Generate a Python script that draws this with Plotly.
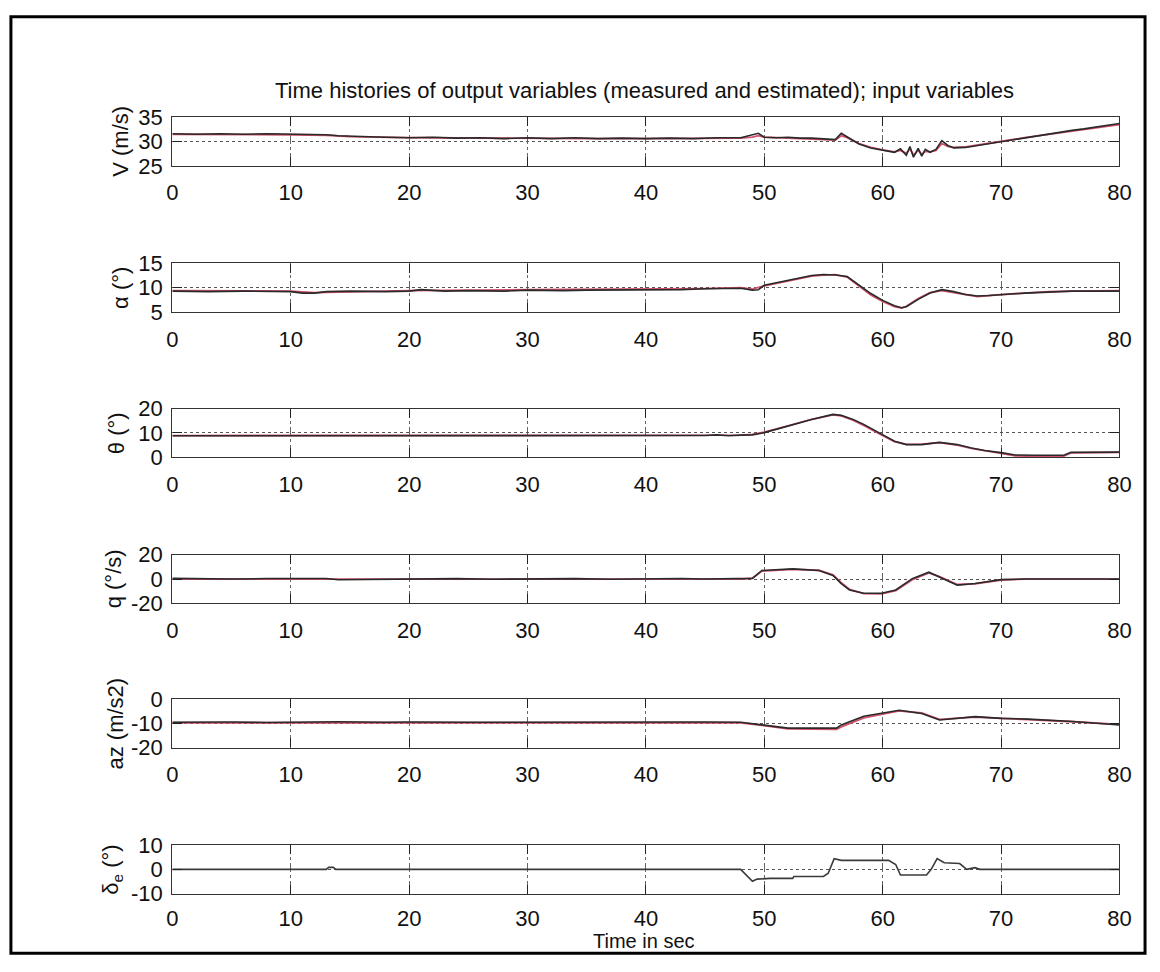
import plotly.graph_objects as go

# ---------------- data ----------------
# airspeed V (m/s)
t_V = [0, 2, 4, 6, 8, 10, 12, 13, 14, 15, 16, 18, 20, 22, 24, 26, 28, 30, 32, 34, 36, 38, 40, 42, 44, 46,
       48, 49, 49.5, 50, 51, 52, 53, 54, 55, 56, 56.5, 57, 58, 59, 60, 61, 61.5, 62, 62.3, 62.6, 63, 63.3,
       63.6, 64, 64.5, 65, 65.5, 66, 67, 68, 69, 70, 71, 72, 73, 74, 75, 76, 77, 78, 79, 80]
V_meas = [31.6, 31.5, 31.6, 31.5, 31.6, 31.5, 31.5, 31.4, 31.2, 31.1, 31.0, 30.9, 30.8, 30.9, 30.7, 30.8,
          30.6, 30.8, 30.6, 30.8, 30.6, 30.7, 30.6, 30.7, 30.6, 30.8, 30.8, 31.3, 31.7, 30.9, 30.8, 30.9,
          30.7, 30.7, 30.6, 30.4, 31.7, 31.0, 29.5, 28.7, 28.2, 27.8, 28.5, 27.2, 29.0, 26.8, 28.6, 27.0,
          28.4, 27.8, 28.4, 30.2, 29.2, 28.7, 28.8, 29.2, 29.6, 30.0, 30.4, 30.8, 31.2, 31.6, 31.9, 32.3,
          32.6, 33.0, 33.3, 33.7]
t_V_est = [0, 5, 10, 13, 15, 20, 25, 30, 35, 40, 45, 48, 49, 49.5, 50, 52, 55, 56, 56.5, 57, 58, 59, 60,
           61, 61.5, 62, 62.3, 62.6, 63, 63.3, 63.6, 64, 64.5, 65, 65.5, 66, 67, 68, 70, 72, 74, 76, 78, 80]
V_est = [31.5, 31.5, 31.4, 31.3, 31.0, 30.8, 30.7, 30.6, 30.6, 30.6, 30.6, 30.7, 30.9, 31.2, 30.9, 30.7,
         30.5, 30.3, 31.2, 30.8, 29.6, 28.8, 28.3, 27.9, 28.2, 27.6, 28.6, 27.2, 28.2, 27.4, 28.0, 27.9,
         28.2, 29.6, 29.0, 28.8, 28.9, 29.3, 30.0, 30.8, 31.5, 32.2, 32.9, 33.5]

# angle of attack alpha (deg)
t_alpha = [0, 3, 6, 9, 10, 11, 12, 13, 15, 18, 20, 21, 22, 23, 25, 28, 30, 33, 35, 38, 40, 43, 45, 47, 48,
           49, 49.5, 50, 51, 52, 53, 54, 55, 56, 57, 58, 59, 60, 61, 61.6, 62, 63, 64, 65, 66, 67, 68, 69,
           70, 72, 74, 76, 78, 80]
alpha_meas = [9.3, 9.2, 9.3, 9.3, 9.2, 8.9, 8.9, 9.2, 9.3, 9.2, 9.3, 9.6, 9.5, 9.3, 9.4, 9.3, 9.5, 9.4,
              9.5, 9.5, 9.6, 9.6, 9.8, 9.8, 9.9, 9.5, 9.6, 10.5, 11.0, 11.5, 12.1, 12.5, 12.7, 12.6, 12.3,
              10.6, 8.8, 7.4, 6.3, 5.9, 6.1, 7.6, 8.9, 9.6, 9.2, 8.6, 8.3, 8.4, 8.6, 8.9, 9.1, 9.3, 9.3, 9.3]
t_alpha_est = [0, 10, 12, 20, 30, 40, 45, 48, 49, 50, 52, 54, 55, 56, 57, 58, 59, 60, 61, 61.6, 62, 63,
               64, 65, 66, 67, 68, 70, 72, 74, 76, 80]
alpha_est = [9.4, 9.3, 9.0, 9.4, 9.6, 9.7, 9.8, 10.0, 9.7, 10.4, 11.4, 12.4, 12.6, 12.7, 12.2, 10.3, 8.5,
             7.2, 6.1, 5.8, 6.2, 7.8, 9.0, 9.4, 9.0, 8.5, 8.2, 8.6, 8.9, 9.2, 9.3, 9.4]

# pitch attitude theta (deg)
t_theta = [0, 10, 20, 30, 40, 45, 46, 47, 48, 49, 50, 52, 54, 55.8, 56.5, 57.5, 58.4, 59.9, 61, 62, 63.3,
           64.8, 66.3, 67.5, 68.6, 70, 71.2, 73, 75.3, 75.9, 80]
theta_meas = [8.8, 8.8, 8.7, 8.8, 8.8, 8.9, 9.2, 8.8, 9.1, 9.2, 10.1, 12.8, 15.5, 17.6, 17.2, 15.5, 13.5,
              9.5, 6.6, 5.2, 5.2, 6.1, 5.2, 3.8, 2.8, 1.9, 0.9, 0.8, 0.8, 2.0, 2.1]
t_theta_est = [0, 10, 20, 30, 40, 45, 48, 49, 50, 52, 54, 55.8, 56.5, 57.5, 58.4, 59.9, 61, 62, 63.3,
               64.8, 66.3, 67.5, 68.6, 70, 71.2, 73, 75.3, 75.9, 80]
theta_est = [8.9, 8.9, 8.8, 8.9, 8.9, 9.0, 9.1, 9.4, 10.3, 12.9, 15.6, 17.4, 17.0, 15.2, 13.1, 9.2, 6.4,
             5.3, 5.4, 6.0, 5.0, 3.6, 2.6, 1.6, 0.6, 0.4, 0.5, 1.8, 2.0]

# pitch rate q (deg/s)
t_q = [0, 3, 5, 8, 10, 13, 14, 17, 20, 24, 27, 30, 34, 37, 40, 43, 45, 48, 49, 49.8, 52.4, 54.6, 55.8,
       56.5, 57.2, 58.4, 59.9, 61.1, 62.5, 63.9, 64.8, 66.3, 67.8, 70, 72, 76, 80]
q_meas = [0.5, 0.2, 0, 0.4, 0.3, 0.4, -0.6, -0.3, -0.2, 0.3, -0.2, 0, 0.3, -0.2, 0.2, 0.4, 0, 0.2, 0.5,
          7, 8.3, 7, 3, -3.7, -9, -11.7, -11.7, -9, 0.3, 5.6, 1.6, -5, -3.7, -0.5, 0, 0.3, 0]
t_q_est = [0, 5, 10, 13, 14, 20, 30, 40, 45, 48, 49, 49.8, 52.4, 54.6, 55.8, 56.5, 57.2, 58.4, 59.9, 61.1,
           62.5, 63.9, 64.8, 66.3, 67.8, 70, 72, 76, 80]
q_est = [0, 0, 0, 0.2, -0.4, 0, 0, 0, 0, 0, 0.8, 6.5, 8, 7.2, 3.5, -3, -8.5, -12, -12.2, -9.5, -0.5, 5.0,
         2.0, -4.5, -3.9, -0.8, 0, 0, 0]

# vertical acceleration az (m/s2)
t_az = [0, 3, 5, 8, 10, 14, 18, 20, 25, 30, 35, 40, 45, 48, 49.8, 52, 56.1, 56.5, 58.4, 59.9, 61.4, 63.3,
        64.8, 67.8, 70, 72.3, 76.1, 80]
az_meas = [-9.6, -9.4, -9.5, -9.7, -9.6, -9.4, -9.6, -9.5, -9.6, -9.5, -9.4, -9.6, -9.5, -9.6, -10.7, -12,
           -12, -10.7, -7.1, -6, -4.7, -6, -8.7, -7.3, -8, -8.3, -9.3, -10.7]
t_az_est = [0, 10, 20, 30, 40, 48, 49.8, 52, 56.1, 56.5, 58.4, 59.9, 61.4, 63.3, 64.8, 67.8, 70, 72.3,
            76.1, 80]
az_est = [-9.8, -9.8, -9.8, -9.8, -9.8, -9.8, -10.9, -12.3, -12.5, -11.5, -7.8, -6.3, -4.9, -5.8, -8.4,
          -7.5, -8.1, -8.5, -9.4, -10.5]

# elevator input delta_e (deg)
t_de = [0, 13, 13.2, 13.6, 13.8, 48, 49, 49.4, 50.5, 52.4, 52.5, 55, 55.4, 55.9, 56.5, 60.5, 61.1, 61.5,
        63.7, 64.1, 64.6, 65.2, 66.5, 67.1, 67.8, 68.2, 80]
de_input = [0, 0, 0.8, 0.8, 0, 0, -4.9, -4, -3.7, -3.7, -2.9, -2.9, -1.6, 4.4, 3.7, 3.7, 2, -2.3, -2.3, 0,
            4.4, 2.7, 2.4, 0, 0.7, 0, 0]

x_ticks = [0, 10, 20, 30, 40, 50, 60, 70, 80]
y_labels = ["V (m/s)", "α (°)", "θ (°)", "q (°/s)", "az (m/s2)", "δ<sub>e</sub> (°)"]
y_ranges = [[25, 35], [5, 15], [0, 20], [-20, 20], [-20, 0], [-10, 10]]
y_ticks = [[25, 30, 35], [5, 10, 15], [0, 10, 20], [-20, 0, 20], [-20, -10, 0], [-10, 0, 10]]

title_text = "Time histories of output variables (measured and estimated); input variables"
xlabel_text = "Time in sec"

# ---------------- layout helpers ----------------
W, H = 1160, 972
X0, X1 = 169, 1131
tops = [108, 258, 407, 557, 705, 855]
PH = 50
label_x = [116, 117, 113, 109, 111, 108]
FONT = "Liberation Sans, Arial, sans-serif"
FS = 22


def px_x(p):
    return p / W


def px_y(p):
    return 1 - p / H


series = [
    (t_V, V_meas, t_V_est, V_est),
    (t_alpha, alpha_meas, t_alpha_est, alpha_est),
    (t_theta, theta_meas, t_theta_est, theta_est),
    (t_q, q_meas, t_q_est, q_est),
    (t_az, az_meas, t_az_est, az_est),
    (t_de, de_input, None, None),
]

fig = go.Figure()
layout = dict(
    width=W, height=H, margin=dict(l=0, r=0, t=0, b=0),
    paper_bgcolor="white", plot_bgcolor="white", showlegend=False,
    font=dict(family=FONT, size=FS, color="#111"),
)
annotations = []

for i, (t, meas, te, est) in enumerate(series):
    n = i + 1
    xa = "x" if n == 1 else f"x{n}"
    ya = "y" if n == 1 else f"y{n}"
    if est is not None:
        fig.add_trace(go.Scatter(x=te, y=est, mode="lines", xaxis=xa, yaxis=ya,
                                 line=dict(color="#d2506a", width=1.8)))
        fig.add_trace(go.Scatter(x=t, y=meas, mode="lines", xaxis=xa, yaxis=ya,
                                 line=dict(color="#2a2a2a", width=1.6)))
    else:
        fig.add_trace(go.Scatter(x=t, y=meas, mode="lines", xaxis=xa, yaxis=ya,
                                 line=dict(color="#3a3a3a", width=1.6)))
    top, bot = tops[i], tops[i] + PH
    xkey = "xaxis" if n == 1 else f"xaxis{n}"
    ykey = "yaxis" if n == 1 else f"yaxis{n}"
    layout[xkey] = dict(
        domain=[px_x(X0), px_x(X1)], anchor=ya, range=[0, 80],
        tickvals=x_ticks, ticktext=[str(v) for v in x_ticks],
        ticks="inside", ticklen=9, tickcolor="#222", mirror="ticks",
        showline=True, linecolor="#333", linewidth=1.3,
        showgrid=True, gridcolor="#666", gridwidth=1, griddash="dashdot",
        zeroline=False, ticklabelstandoff=(5 if n == 6 else 7),
        tickfont=dict(family=FONT, size=FS, color="#111"),
    )
    layout[ykey] = dict(
        domain=[px_y(bot), px_y(top)], anchor=xa, range=y_ranges[i],
        tickvals=y_ticks[i], ticktext=[str(v) for v in y_ticks[i]],
        ticks="inside", ticklen=9, tickcolor="#222", mirror="ticks",
        showline=True, linecolor="#333", linewidth=1.3,
        showgrid=True, gridcolor="#555", gridwidth=1, griddash="dot",
        zeroline=False, ticklabelstandoff=4,
        tickfont=dict(family=FONT, size=FS, color="#111"),
    )
    annotations.append(dict(
        text=y_labels[i], textangle=-90, xref="paper", yref="paper",
        x=px_x(label_x[i]), y=px_y(top + PH / 2), xanchor="center", yanchor="middle",
        showarrow=False, font=dict(family=FONT, size=FS, color="#111"),
    ))

annotations.append(dict(text=title_text, xref="paper", yref="paper", x=px_x(649), y=px_y(81),
                        xanchor="center", yanchor="middle", showarrow=False,
                        font=dict(family=FONT, size=FS, color="#111")))
annotations.append(dict(text=xlabel_text, xref="paper", yref="paper", x=px_x(648), y=px_y(954),
                        xanchor="center", yanchor="middle", showarrow=False,
                        font=dict(family=FONT, size=FS - 2, color="#111")))
layout["annotations"] = annotations
layout["shapes"] = [dict(type="rect", xref="paper", yref="paper",
                         x0=px_x(5), x1=px_x(1157), y0=px_y(966), y1=px_y(5),
                         line=dict(color="black", width=3), layer="above")]

fig.update_layout(**layout)
fig.write_html("out.html")
